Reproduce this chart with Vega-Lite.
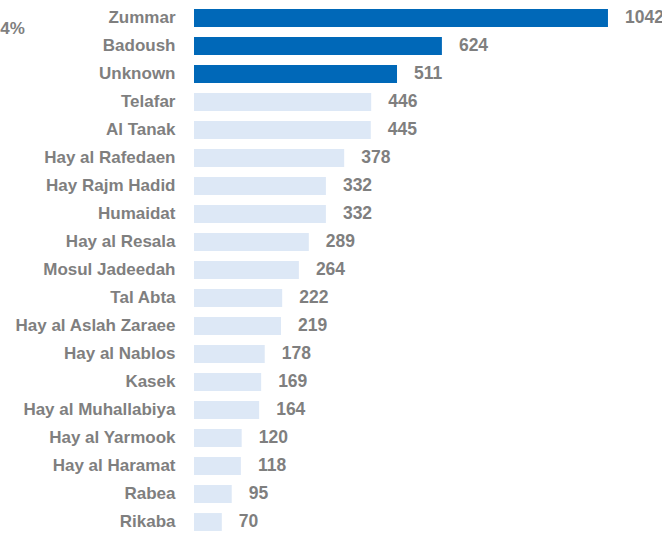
{
  "$schema": "https://vega.github.io/schema/vega-lite/v6.json",
  "autosize": {"type": "none"},
  "padding": {"left": 194, "top": 4, "right": 0, "bottom": 0},
  "width": 468,
  "height": 532,
  "background": "white",
  "title": {
    "text": "4%",
    "anchor": "start",
    "frame": "bounds",
    "offset": 0,
    "dx": -14,
    "dy": 34,
    "font": "Liberation Sans",
    "fontSize": 17,
    "fontWeight": "bold",
    "color": "#7f7f7f"
  },
  "config": {"view": {"stroke": null}},
  "data": {
    "values": [
      {"area": "Zummar", "count": 1042, "top": "yes"},
      {"area": "Badoush", "count": 624, "top": "yes"},
      {"area": "Unknown", "count": 511, "top": "yes"},
      {"area": "Telafar", "count": 446, "top": "no"},
      {"area": "Al Tanak", "count": 445, "top": "no"},
      {"area": "Hay al Rafedaen", "count": 378, "top": "no"},
      {"area": "Hay Rajm Hadid", "count": 332, "top": "no"},
      {"area": "Humaidat", "count": 332, "top": "no"},
      {"area": "Hay al Resala", "count": 289, "top": "no"},
      {"area": "Mosul Jadeedah", "count": 264, "top": "no"},
      {"area": "Tal Abta", "count": 222, "top": "no"},
      {"area": "Hay al Aslah Zaraee", "count": 219, "top": "no"},
      {"area": "Hay al Nablos", "count": 178, "top": "no"},
      {"area": "Kasek", "count": 169, "top": "no"},
      {"area": "Hay al Muhallabiya", "count": 164, "top": "no"},
      {"area": "Hay al Yarmook", "count": 120, "top": "no"},
      {"area": "Hay al Haramat", "count": 118, "top": "no"},
      {"area": "Rabea", "count": 95, "top": "no"},
      {"area": "Rikaba", "count": 70, "top": "no"}
    ]
  },
  "encoding": {
    "y": {
      "field": "area",
      "type": "nominal",
      "sort": null,
      "scale": {"paddingInner": 0.36, "paddingOuter": 0.18},
      "axis": {
        "title": null,
        "ticks": false,
        "domain": false,
        "labelPadding": 19,
        "labelFont": "Liberation Sans",
        "labelFontSize": 17,
        "labelFontWeight": "bold",
        "labelColor": "#7f7f7f",
        "labelLimit": 300
      }
    },
    "x": {
      "field": "count",
      "type": "quantitative",
      "scale": {"domain": [0, 1178], "nice": false},
      "axis": null
    }
  },
  "layer": [
    {
      "mark": {"type": "bar"},
      "encoding": {
        "color": {
          "field": "top",
          "type": "nominal",
          "scale": {"domain": ["yes", "no"], "range": ["#0068b8", "#dde8f6"]},
          "legend": null
        }
      }
    },
    {
      "mark": {
        "type": "text",
        "align": "left",
        "baseline": "middle",
        "dx": 17,
        "font": "Liberation Sans",
        "fontSize": 17.5,
        "fontWeight": "bold",
        "color": "#7f7f7f"
      },
      "encoding": {"text": {"field": "count", "type": "quantitative"}}
    }
  ]
}
